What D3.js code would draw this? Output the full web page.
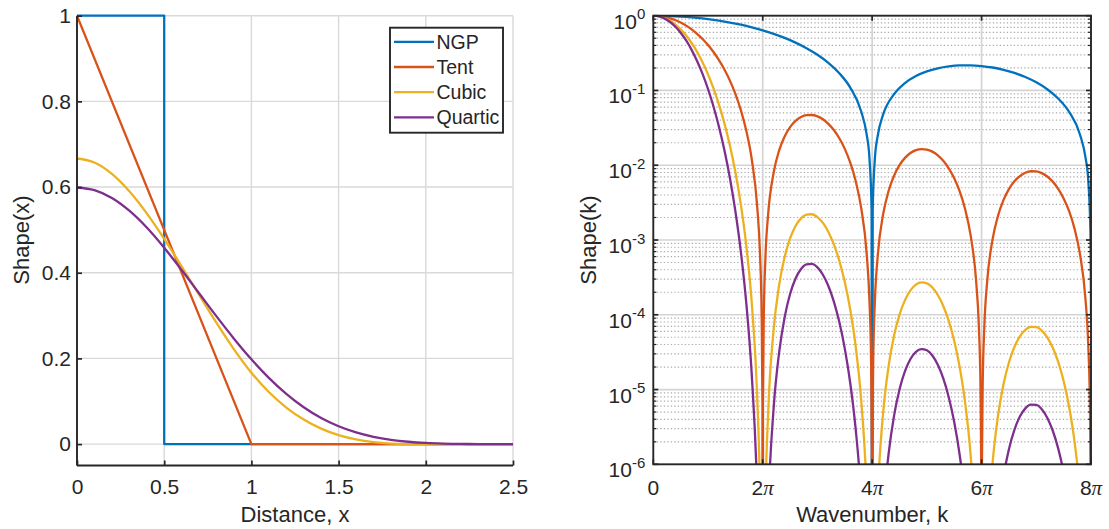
<!DOCTYPE html>
<html><head><meta charset="utf-8">
<script src="https://cdn.jsdelivr.net/npm/d3@7"></script>
<style>
body{margin:0;background:#fff;}
svg text{font-family:Arial,"Liberation Sans",Helvetica,sans-serif;fill:#262626;}
</style></head><body>
<svg id="c" width="1109" height="529"></svg>
<script>
// ---------- DATA ----------
const seriesNames = ["NGP","Tent","Cubic","Quartic"];
const seriesColors = ["#0072BD","#D95319","#EDB120","#7E2F8E"];

// Left panel: shape functions in real space
const xTicksL = [0,0.5,1,1.5,2,2.5];
const yTicksL = [0,0.2,0.4,0.6,0.8,1];
const xNGP = [0,0.5,0.5,2.5];
const yNGP = [1,1,0,0];
const xTent = [0,1,2.5];
const yTent = [1,0,0];
const xSpline = [0,0.1,0.2,0.3,0.4,0.5,0.6,0.7,0.8,0.9,1.0,1.1,1.2,1.3,1.4,1.5,1.6,1.7,1.8,1.9,2.0,2.1,2.2,2.3,2.4,2.5];
const yCubic = [0.6667,0.6572,0.6307,0.5902,0.5387,0.4792,0.4147,0.3482,0.2827,0.2212,0.1667,0.1215,0.0853,0.0572,0.0360,0.0208,0.0107,0.0045,0.0013,0.0002,0,0,0,0,0,0];
const yQuartic = [0.5990,0.5927,0.5744,0.5447,0.5054,0.4583,0.4063,0.3521,0.2980,0.2461,0.1979,0.1547,0.1173,0.0861,0.0610,0.0417,0.0273,0.0171,0.0100,0.0054,0.0026,0.0011,0.0003,0.0001,0,0];

// Right panel: shape functions in Fourier space (k in units of pi)
const xTicksR = [0,2,4,6,8];
const xTickLabelsR = ["0","2π","4π","6π","8π"];
const yExpR = [0,-1,-2,-3,-4,-5,-6];
const kNGP = [0,0.2,0.4,0.6,0.8,1.0,1.2,1.4,1.6,1.8,2.0,2.2,2.4,2.6,2.8,3.0,3.2,3.4,3.6,3.8,3.9,3.95,3.99,4.0,4.01,4.05,4.1,4.2,4.4,4.6,4.8,5.0,5.2,5.4,5.6,5.8,6.0,6.2,6.4,6.6,6.8,7.0,7.2,7.4,7.6,7.8,7.9,7.95,7.99,7.998,8.0];
const ngpK = [1,0.99589,0.98363,0.9634,0.93549,0.90032,0.85839,0.81033,0.75683,0.69865,0.63662,0.57162,0.50455,0.43633,0.36788,0.30011,0.23387,0.17001,0.10929,0.05241,0.025615,0.012655,0.0025063,0,0.0024937,0.012343,0.024365,0.04742,0.08942,0.12566,0.15592,0.18006,0.19809,0.21009,0.21624,0.21682,0.21221,0.20283,0.18921,0.17189,0.15148,0.12862,0.10394,0.07811,0.05177,0.02554,0.012645,0.006288,0.0012516,0.00025,0.0001];
const kSpl = [0,0.1,0.2,0.3,0.4,0.5,0.6,0.7,0.8,0.9,1.0,1.1,1.2,1.3,1.4,1.5,1.6,1.7,1.8,1.9,1.95,1.98,1.995,2.0,2.005,2.02,2.05,2.1,2.2,2.3,2.4,2.5,2.6,2.7,2.8,2.9,3.0,3.1,3.2,3.3,3.4,3.5,3.6,3.7,3.8,3.9,3.95,3.98,3.995,4.0,4.005,4.02,4.05,4.1,4.2,4.3,4.4,4.5,4.6,4.7,4.8,4.9,5.0,5.1,5.2,5.3,5.4,5.5,5.6,5.7,5.8,5.9,5.95,5.98,5.995,6.0,6.005,6.02,6.05,6.1,6.2,6.3,6.4,6.5,6.6,6.7,6.8,6.9,7.0,7.1,7.2,7.3,7.4,7.5,7.6,7.7,7.8,7.9,7.95,7.98,7.995,8.0];
const tentK = [1,0.9918,0.9675,0.9281,0.8751,0.8106,0.7368,0.6566,0.5728,0.4881,0.4053,0.3267,0.2546,0.1904,0.1353,0.09007,0.05470,0.02890,0.01194,2.747e-3,6.561e-4,1.020e-4,6.282e-6,0,6.219e-6,9.800e-5,5.937e-4,2.249e-3,7.996e-3,0.01579,0.02431,0.03242,0.03924,0.04414,0.04676,0.04701,0.04503,0.04114,0.03580,0.02955,0.02295,0.01654,0.01080,6.101e-3,2.680e-3,6.523e-4,1.599e-4,2.524e-5,1.567e-6,0,1.559e-6,2.475e-5,1.521e-4,5.900e-4,2.194e-3,4.517e-3,7.234e-3,0.01001,0.01254,0.01457,0.01591,0.01647,0.01621,0.01520,0.01356,0.01146,9.097e-3,6.699e-3,4.465e-3,2.572e-3,1.151e-3,2.849e-4,7.047e-5,1.118e-5,6.956e-7,0,6.933e-7,1.103e-5,6.816e-5,2.667e-4,1.007e-3,2.105e-3,3.419e-3,4.797e-3,6.090e-3,7.167e-3,7.928e-3,8.305e-3,8.272e-3,7.843e-3,7.071e-3,6.037e-3,4.844e-3,3.602e-3,2.425e-3,1.409e-3,6.361e-4,1.590e-4,3.947e-5,6.280e-6,3.911e-7,0];
const cubicK = [1,0.9837,0.9361,0.8614,0.7659,0.6570,0.5429,0.4312,0.3281,0.2383,0.1643,0.1068,0.06481,0.03625,0.01832,8.112e-3,2.992e-3,8.354e-4,1.427e-4,7.545e-6,4.305e-7,1.041e-8,3.946e-11,0,3.867e-11,9.604e-9,3.524e-7,5.057e-6,6.393e-5,2.493e-4,5.910e-4,1.051e-3,1.540e-3,1.948e-3,2.186e-3,2.210e-3,2.028e-3,1.693e-3,1.282e-3,8.730e-4,5.265e-4,2.737e-4,1.167e-4,3.722e-5,7.183e-6,4.255e-7,2.557e-8,6.372e-10,2.454e-12,0,2.429e-12,6.123e-10,2.314e-8,3.481e-7,4.814e-6,2.040e-5,5.232e-5,1.002e-4,1.571e-4,2.122e-4,2.532e-4,2.711e-4,2.628e-4,2.311e-4,1.838e-4,1.312e-4,8.276e-5,4.488e-5,1.994e-5,6.613e-6,1.324e-6,8.119e-8,4.966e-9,1.250e-10,4.84e-13,0,4.81e-13,1.217e-10,4.646e-9,7.111e-8,1.014e-6,4.431e-6,1.169e-5,2.301e-5,3.709e-5,5.137e-5,6.286e-5,6.897e-5,6.842e-5,6.151e-5,5.000e-5,3.645e-5,2.347e-5,1.298e-5,5.879e-6,1.986e-6,4.046e-7,2.529e-8,1.558e-9,3.94e-11,1.53e-13,0];
const quarticK = [1,0.9796,0.9208,0.8299,0.7165,0.5915,0.4660,0.3494,0.2483,0.1665,0.1046,0.06103,0.03270,0.01582,6.738e-3,2.435e-3,6.996e-4,1.420e-4,1.559e-5,3.954e-7,1.103e-8,1.05e-10,9.9e-14,0,9.6e-14,9.5e-11,8.59e-9,2.398e-7,5.717e-6,3.133e-5,9.215e-5,1.893e-4,3.050e-4,4.093e-4,4.728e-4,4.792e-4,4.304e-4,3.433e-4,2.425e-4,1.501e-4,7.976e-5,3.520e-5,1.213e-5,2.908e-6,3.719e-7,1.087e-8,3.23e-10,3.2e-12,3.1e-15,0,3.0e-15,3.0e-12,2.85e-10,8.46e-9,2.255e-7,1.371e-6,4.450e-6,1.002e-5,1.759e-5,2.561e-5,3.194e-5,3.479e-5,3.346e-5,2.849e-5,2.141e-5,1.405e-5,7.894e-6,3.674e-6,1.332e-6,3.353e-7,4.49e-8,1.37e-9,4.2e-11,4.2e-13,4.0e-16,0,4.0e-16,4.0e-13,3.8e-11,1.161e-9,3.216e-8,2.033e-7,6.834e-7,1.594e-6,2.895e-6,4.349e-6,5.597e-6,6.285e-6,6.223e-6,5.447e-6,4.205e-6,2.832e-6,1.633e-6,7.789e-7,2.895e-7,7.456e-8,1.020e-8,3.19e-10,9.8e-12,9.9e-14,9.6e-17,0];

// ---------- DRAW ----------
const svg = d3.select("#c");
const axisColor = "#262626";
const fontTick = 21, fontLabel = 22, fontSup = 15, lw = 2.3;

function zip(xs, ys){ return xs.map((x,i)=>[x, ys[i]]); }

// ===== LEFT PANEL =====
const L = {x0:77, x1:513, y0:15.7, y1:465.5};
const xL = d3.scaleLinear().domain([0,2.5]).range([L.x0,L.x1]);
const yL = d3.scaleLinear().domain([-0.05,1]).range([L.y1,L.y0]);
const gL = svg.append("g");

// grid
gL.append("g").selectAll("line").data(xTicksL).join("line")
  .attr("x1",d=>xL(d)).attr("x2",d=>xL(d)).attr("y1",L.y0).attr("y2",L.y1)
  .attr("stroke","#d9d9d9").attr("stroke-width",1.4);
gL.append("g").selectAll("line").data(yTicksL).join("line")
  .attr("x1",L.x0).attr("x2",L.x1).attr("y1",d=>yL(d)).attr("y2",d=>yL(d))
  .attr("stroke","#d9d9d9").attr("stroke-width",1.4);

svg.append("clipPath").attr("id","clipL").append("rect")
  .attr("x",L.x0).attr("y",L.y0-2).attr("width",L.x1-L.x0+2).attr("height",L.y1-L.y0+2);

const lineL = d3.line().x(d=>xL(d[0])).y(d=>yL(d[1]));
const lineLs = d3.line().x(d=>xL(d[0])).y(d=>yL(d[1])).curve(d3.curveMonotoneX);
const leftSeries = [
  {d:zip(xNGP,yNGP), gen:lineL},
  {d:zip(xTent,yTent), gen:lineL},
  {d:zip(xSpline,yCubic), gen:lineLs},
  {d:zip(xSpline,yQuartic), gen:lineLs}
];
const gLd = gL.append("g").attr("clip-path","url(#clipL)");
leftSeries.forEach((s,i)=>{
  gLd.append("path").attr("d",s.gen(s.d)).attr("fill","none")
    .attr("stroke",seriesColors[i]).attr("stroke-width",lw)
    .attr("stroke-linejoin","round");
});

// axes
const axLy = gL.append("g").attr("transform",`translate(${L.x0},0)`)
  .call(d3.axisLeft(yL).tickValues(yTicksL).tickSize(-5).tickPadding(6).tickFormat(d3.format("")));
const axLx = gL.append("g").attr("transform",`translate(0,${L.y1})`)
  .call(d3.axisBottom(xL).tickValues(xTicksL).tickSize(-5).tickPadding(14).tickFormat(d3.format("")));
[axLy,axLx].forEach(a=>{
  a.select(".domain").attr("stroke",axisColor).attr("stroke-width",1.9);
  a.selectAll(".tick line").attr("stroke",axisColor).attr("stroke-width",1.7);
  a.selectAll(".tick text").attr("font-size",fontTick).attr("fill",axisColor)
    .style("font-family","Arial, 'Liberation Sans', sans-serif");
});
axLy.select(".domain").attr("d",`M0,${L.y1}V${L.y0}`);
axLx.select(".domain").attr("d",`M${L.x0},0H${L.x1}`);

gL.append("text").attr("x",(L.x0+L.x1)/2).attr("y",514).attr("dy","0.35em")
  .attr("text-anchor","middle").attr("font-size",fontLabel).text("Distance, x");
gL.append("text").attr("transform",`translate(21,240) rotate(-90)`).attr("dy","0.35em")
  .attr("text-anchor","middle").attr("font-size",fontLabel).text("Shape(x)");

// legend
const lg = svg.append("g");
lg.append("rect").attr("x",390).attr("y",27.7).attr("width",113).attr("height",105)
  .attr("fill","#fff").attr("stroke",axisColor).attr("stroke-width",1.9);
seriesNames.forEach((n,i)=>{
  const yy = 41.8 + i*25.2;
  lg.append("line").attr("x1",394).attr("x2",434).attr("y1",yy).attr("y2",yy)
    .attr("stroke",seriesColors[i]).attr("stroke-width",lw);
  lg.append("text").attr("x",436.5).attr("y",yy).attr("dy","0.35em")
    .attr("font-size",19.5).text(n);
});

// ===== RIGHT PANEL =====
const R = {x0:653.3, x1:1091, y0:15.7, y1:464.3};
const xR = d3.scaleLinear().domain([0,8]).range([R.x0,R.x1]);
const yR = d3.scaleLog().domain([1e-6,1]).range([R.y1,R.y0]);
const gR = svg.append("g");

// minor grid (dotted)
const minorVals = [];
for (let e=-6; e<0; e++) for (let m=2; m<=9; m++) minorVals.push(m*Math.pow(10,e));
gR.append("g").selectAll("line").data(minorVals).join("line")
  .attr("x1",R.x0).attr("x2",R.x1).attr("y1",d=>yR(d)).attr("y2",d=>yR(d))
  .attr("stroke","#ababab").attr("stroke-width",1.2).attr("stroke-dasharray","1.3,2.2");
// major grid
gR.append("g").selectAll("line").data(yExpR.slice(1,-1)).join("line")
  .attr("x1",R.x0).attr("x2",R.x1).attr("y1",e=>yR(Math.pow(10,e))).attr("y2",e=>yR(Math.pow(10,e)))
  .attr("stroke","#d4d4d4").attr("stroke-width",1.7);
gR.append("g").selectAll("line").data(xTicksR.slice(1,-1)).join("line")
  .attr("x1",d=>xR(d)).attr("x2",d=>xR(d)).attr("y1",R.y0).attr("y2",R.y1)
  .attr("stroke","#d4d4d4").attr("stroke-width",1.7);

svg.append("clipPath").attr("id","clipR").append("rect")
  .attr("x",R.x0).attr("y",R.y0).attr("width",R.x1-R.x0).attr("height",R.y1-R.y0);

const floorV = 1e-20;
const lineR = d3.line().x(d=>xR(d[0])).y(d=>yR(Math.max(d[1],floorV))).curve(d3.curveMonotoneX);
const rightSeries = [zip(kNGP,ngpK), zip(kSpl,tentK), zip(kSpl,cubicK), zip(kSpl,quarticK)];
const gRd = gR.append("g").attr("clip-path","url(#clipR)");
rightSeries.forEach((d,i)=>{
  gRd.append("path").attr("d",lineR(d)).attr("fill","none")
    .attr("stroke",seriesColors[i]).attr("stroke-width",lw).attr("stroke-linejoin","round");
});

// box
gR.append("rect").attr("x",R.x0).attr("y",R.y0).attr("width",R.x1-R.x0).attr("height",R.y1-R.y0)
  .attr("fill","none").attr("stroke",axisColor).attr("stroke-width",1.9);

// ticks
const tk = gR.append("g").attr("stroke",axisColor);
xTicksR.forEach(t=>{
  const x = xR(t);
  tk.append("line").attr("x1",x).attr("x2",x).attr("y1",R.y1).attr("y2",R.y1-5).attr("stroke-width",1.7);
  tk.append("line").attr("x1",x).attr("x2",x).attr("y1",R.y0).attr("y2",R.y0+5).attr("stroke-width",1.7);
});
yExpR.forEach(e=>{
  const y = yR(Math.pow(10,e));
  tk.append("line").attr("x1",R.x0).attr("x2",R.x0+5).attr("y1",y).attr("y2",y).attr("stroke-width",1.7);
  tk.append("line").attr("x1",R.x1).attr("x2",R.x1-5).attr("y1",y).attr("y2",y).attr("stroke-width",1.7);
});
minorVals.forEach(v=>{
  const y = yR(v);
  tk.append("line").attr("x1",R.x0).attr("x2",R.x0+3).attr("y1",y).attr("y2",y).attr("stroke-width",1.2);
  tk.append("line").attr("x1",R.x1).attr("x2",R.x1-3).attr("y1",y).attr("y2",y).attr("stroke-width",1.2);
});

// y tick labels 10^e
yExpR.forEach(e=>{
  const y = yR(Math.pow(10,e));
  const t = gR.append("text").attr("x",R.x0-8).attr("y",y+13).attr("text-anchor","end").attr("font-size",fontTick);
  t.append("tspan").text("10");
  t.append("tspan").attr("dy",-9.5).attr("font-size",fontSup).text(String(e));
});
// x tick labels
xTicksR.forEach((t,i)=>{
  const lab = xTickLabelsR[i];
  const tx = gR.append("text").attr("x",xR(t)).attr("y",R.y1+15.5).attr("dy","0.71em")
    .attr("text-anchor","middle").attr("font-size",fontTick);
  if (lab.endsWith("π")) {
    tx.append("tspan").text(lab.slice(0,-1));
    tx.append("tspan").style("font-family","'Liberation Serif','DejaVu Serif',serif")
      .style("font-style","italic").text("π");
  } else tx.text(lab);
});

gR.append("text").attr("x",(R.x0+R.x1)/2).attr("y",514).attr("dy","0.35em")
  .attr("text-anchor","middle").attr("font-size",fontLabel).text("Wavenumber, k");
gR.append("text").attr("transform",`translate(588,240) rotate(-90)`).attr("dy","0.35em")
  .attr("text-anchor","middle").attr("font-size",fontLabel).text("Shape(k)");
</script>
</body></html>
